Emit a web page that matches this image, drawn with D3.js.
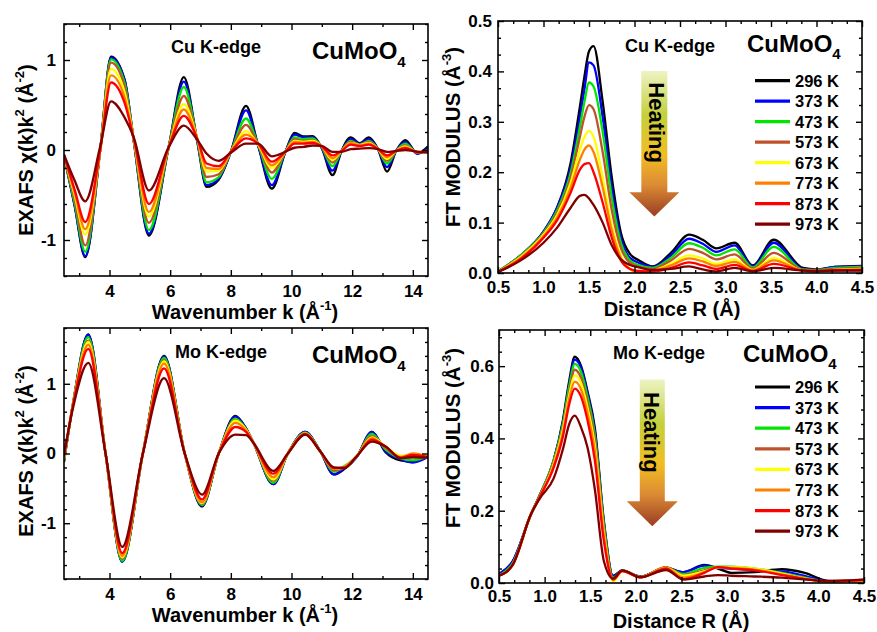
<!DOCTYPE html>
<html>
<head>
<meta charset="utf-8">
<script src="https://cdn.jsdelivr.net/npm/d3@7"></script>
<style>
body { margin: 0; background: #fff; }
text { font-family: "Liberation Sans", Arial, sans-serif; font-weight: bold; }
</style>
</head>
<body>
<script>
// temperatures and their colours (legend order)
var temps = ["296 K", "373 K", "473 K", "573 K", "673 K", "773 K", "873 K", "973 K"];
var colors = ["#000000", "#0000ff", "#00e600", "#c0522b", "#ffff00", "#ff8000", "#ff0000", "#800000"];

// Cu K-edge EXAFS, k grid (1/A) and chi(k)k^2 per temperature
var cuK = [2.5, 2.85, 3.2, 3.7, 4.05, 4.5, 4.8, 5.3, 5.95, 6.45, 6.9, 7.2, 7.6, 8.0, 8.5, 8.9, 9.35, 9.8, 10.1, 10.4, 10.7, 11.0, 11.35, 11.65, 11.95, 12.25, 12.55, 12.85, 13.15, 13.45, 13.75, 14.15, 14.5];
var cuChi = [
  [-0.06, -0.62, -1.19, 0.02, 1.037, 0.78, 0.10, -0.95, 0.03, 0.81, 0.08, -0.41, -0.33, -0.02, 0.49, 0.05, -0.43, -0.02, 0.19, 0.15, 0.155, 0.02, -0.28, -0.01, 0.14, 0.075, 0.14, 0.01, -0.24, -0.01, 0.11, -0.04, 0.04],
  [-0.06, -0.61, -1.18, 0.02, 1.026, 0.77, 0.10, -0.93, 0.03, 0.76, 0.09, -0.39, -0.32, -0.02, 0.44, 0.05, -0.39, -0.02, 0.17, 0.14, 0.14, 0.02, -0.23, -0.01, 0.12, 0.07, 0.12, 0.01, -0.19, -0.01, 0.09, -0.04, 0.02],
  [-0.06, -0.59, -1.13, 0.02, 1.007, 0.74, 0.11, -0.89, 0.03, 0.70, 0.10, -0.36, -0.30, -0.02, 0.35, 0.06, -0.32, -0.02, 0.14, 0.12, 0.13, 0.03, -0.18, -0.01, 0.10, 0.06, 0.10, 0.01, -0.15, -0.01, 0.07, -0.03, 0.0],
  [-0.06, -0.55, -1.06, 0.02, 0.97, 0.70, 0.11, -0.81, 0.03, 0.60, 0.11, -0.30, -0.27, -0.02, 0.28, 0.06, -0.25, -0.02, 0.12, 0.10, 0.11, 0.03, -0.14, -0.01, 0.09, 0.06, 0.09, 0.01, -0.12, -0.01, 0.05, -0.03, -0.01],
  [-0.06, -0.50, -0.94, 0.01, 0.90, 0.64, 0.12, -0.74, 0.03, 0.51, 0.12, -0.24, -0.23, -0.02, 0.21, 0.06, -0.20, -0.02, 0.10, 0.09, 0.10, 0.04, -0.11, -0.01, 0.08, 0.055, 0.08, 0.01, -0.10, -0.01, 0.04, -0.02, -0.02],
  [-0.06, -0.47, -0.88, 0.01, 0.83, 0.58, 0.12, -0.69, 0.03, 0.45, 0.12, -0.20, -0.21, -0.02, 0.17, 0.07, -0.17, -0.02, 0.09, 0.08, 0.09, 0.04, -0.09, -0.01, 0.075, 0.05, 0.07, 0.01, -0.08, -0.01, 0.03, -0.02, -0.02],
  [-0.06, -0.44, -0.80, 0.01, 0.75, 0.52, 0.13, -0.60, 0.03, 0.38, 0.12, -0.15, -0.18, -0.02, 0.13, 0.07, -0.13, -0.02, 0.07, 0.07, 0.08, 0.04, -0.06, -0.01, 0.06, 0.045, 0.06, 0.01, -0.06, -0.01, 0.02, -0.02, -0.02],
  [-0.05, -0.34, -0.57, 0.05, 0.54, 0.36, 0.14, -0.45, 0.03, 0.27, 0.11, -0.04, -0.12, -0.03, 0.07, 0.07, -0.07, -0.02, 0.025, 0.035, 0.05, 0.045, -0.02, -0.02, 0.01, 0.015, 0.02, 0.01, -0.02, -0.01, 0.0, -0.02, -0.03]
];

// Cu K-edge FT modulus, R grid (A)
var cuR = [0.5, 0.75, 1.0, 1.15, 1.3, 1.4, 1.45, 1.5, 1.55, 1.65, 1.75, 1.85, 1.95, 2.05, 2.2, 2.4, 2.6, 2.75, 2.9, 3.1, 3.3, 3.53, 3.85, 4.0, 4.2, 4.5];
var cuFT = [
  [0.003, 0.035, 0.082, 0.13, 0.22, 0.33, 0.39, 0.44, 0.45, 0.34, 0.19, 0.08, 0.038, 0.025, 0.013, 0.04, 0.076, 0.066, 0.049, 0.06, 0.015, 0.066, 0.01, 0.007, 0.012, 0.014],
  [0.003, 0.035, 0.082, 0.13, 0.21, 0.31, 0.365, 0.418, 0.412, 0.31, 0.17, 0.07, 0.03, 0.02, 0.012, 0.035, 0.068, 0.058, 0.042, 0.055, 0.013, 0.06, 0.008, 0.006, 0.012, 0.013],
  [0.003, 0.035, 0.08, 0.125, 0.20, 0.29, 0.34, 0.378, 0.37, 0.28, 0.15, 0.06, 0.025, 0.015, 0.01, 0.03, 0.059, 0.05, 0.035, 0.047, 0.011, 0.052, 0.007, 0.006, 0.01, 0.012],
  [0.003, 0.033, 0.078, 0.12, 0.19, 0.27, 0.31, 0.333, 0.325, 0.24, 0.125, 0.05, 0.02, 0.012, 0.008, 0.025, 0.048, 0.04, 0.027, 0.037, 0.009, 0.04, 0.006, 0.005, 0.008, 0.01],
  [0.002, 0.032, 0.076, 0.115, 0.18, 0.245, 0.27, 0.282, 0.27, 0.19, 0.095, 0.035, 0.008, 0.0, 0.004, 0.018, 0.035, 0.029, 0.018, 0.027, 0.006, 0.03, 0.005, 0.004, 0.006, 0.008],
  [0.002, 0.03, 0.073, 0.11, 0.17, 0.225, 0.245, 0.253, 0.24, 0.17, 0.085, 0.03, 0.008, 0.002, 0.004, 0.015, 0.029, 0.023, 0.014, 0.022, 0.005, 0.025, 0.005, 0.004, 0.006, 0.007],
  [0.002, 0.028, 0.07, 0.105, 0.16, 0.205, 0.216, 0.218, 0.2, 0.14, 0.07, 0.025, 0.008, 0.004, 0.003, 0.01, 0.021, 0.015, 0.008, 0.016, 0.004, 0.018, 0.005, 0.004, 0.005, 0.006],
  [0.002, 0.025, 0.06, 0.09, 0.13, 0.153, 0.155, 0.148, 0.135, 0.1, 0.055, 0.027, 0.016, 0.011, 0.006, 0.008, 0.013, 0.007, 0.003, 0.01, 0.003, 0.01, 0.005, 0.004, 0.005, 0.005]
];

// Mo K-edge EXAFS
var moK = [2.5, 2.8, 3.3, 3.87, 4.42, 5.1, 5.8, 6.48, 7.05, 7.6, 8.15, 8.5, 8.75, 9.4, 9.88, 10.45, 10.95, 11.4, 11.75, 12.15, 12.65, 13.1, 13.6, 14.0, 14.5];
var moChi = [
  [-0.12, 0.72, 1.71, 0.0, -1.55, 0.0, 1.40, 0.0, -0.76, 0.0, 0.54, 0.36, 0.15, -0.44, 0.0, 0.31, 0.03, -0.30, -0.22, -0.05, 0.31, 0.02, -0.10, -0.12, -0.03],
  [-0.11, 0.72, 1.70, 0.0, -1.55, 0.0, 1.39, 0.0, -0.75, 0.0, 0.53, 0.36, 0.15, -0.44, 0.0, 0.31, 0.03, -0.30, -0.21, -0.05, 0.31, 0.03, -0.08, -0.13, -0.05],
  [-0.10, 0.72, 1.67, 0.0, -1.54, 0.0, 1.37, 0.0, -0.74, 0.0, 0.50, 0.35, 0.15, -0.42, 0.0, 0.30, 0.03, -0.26, -0.18, -0.04, 0.28, 0.06, -0.07, -0.10, -0.04],
  [-0.08, 0.71, 1.62, 0.0, -1.51, 0.0, 1.34, 0.0, -0.72, 0.0, 0.48, 0.34, 0.15, -0.39, 0.0, 0.29, 0.03, -0.24, -0.20, -0.04, 0.25, 0.08, -0.06, -0.06, -0.05],
  [-0.07, 0.71, 1.60, 0.0, -1.49, 0.0, 1.32, 0.0, -0.71, 0.0, 0.47, 0.34, 0.15, -0.37, 0.0, 0.29, 0.03, -0.22, -0.19, -0.04, 0.23, 0.10, -0.03, -0.03, -0.03],
  [-0.06, 0.70, 1.56, 0.0, -1.47, 0.0, 1.29, 0.0, -0.70, 0.0, 0.44, 0.33, 0.15, -0.34, 0.0, 0.28, 0.03, -0.22, -0.19, -0.04, 0.22, 0.09, -0.05, 0.0, -0.05],
  [-0.04, 0.70, 1.50, 0.0, -1.43, 0.0, 1.22, 0.0, -0.66, 0.0, 0.38, 0.31, 0.15, -0.29, 0.0, 0.28, 0.03, -0.21, -0.20, -0.04, 0.20, 0.10, -0.06, -0.02, -0.05],
  [-0.02, 0.66, 1.30, 0.0, -1.34, 0.0, 1.08, 0.0, -0.59, 0.0, 0.27, 0.265, 0.15, -0.25, 0.0, 0.27, 0.03, -0.20, -0.21, -0.04, 0.17, 0.10, -0.07, -0.05, -0.06]
];

// Mo K-edge FT modulus
var moR = [0.5, 0.65, 0.85, 0.95, 1.1, 1.2, 1.27, 1.33, 1.4, 1.47, 1.55, 1.65, 1.75, 1.85, 2.05, 2.33, 2.52, 2.75, 2.9, 3.05, 3.3, 3.6, 3.85, 4.1, 4.3, 4.5];
var moFT = [
  [0.025, 0.06, 0.19, 0.245, 0.34, 0.45, 0.56, 0.626, 0.60, 0.53, 0.43, 0.17, 0.02, 0.035, 0.018, 0.042, 0.03, 0.05, 0.04, 0.028, 0.03, 0.038, 0.028, 0.006, 0.004, 0.006],
  [0.025, 0.06, 0.19, 0.245, 0.34, 0.445, 0.55, 0.618, 0.595, 0.525, 0.42, 0.165, 0.018, 0.034, 0.018, 0.042, 0.03, 0.048, 0.042, 0.04, 0.035, 0.032, 0.02, 0.005, 0.004, 0.006],
  [0.02, 0.055, 0.19, 0.245, 0.34, 0.44, 0.545, 0.606, 0.583, 0.515, 0.41, 0.16, 0.015, 0.034, 0.017, 0.043, 0.025, 0.042, 0.045, 0.045, 0.04, 0.028, 0.015, 0.004, 0.004, 0.006],
  [0.02, 0.052, 0.19, 0.243, 0.335, 0.43, 0.53, 0.59, 0.567, 0.50, 0.395, 0.15, 0.012, 0.034, 0.017, 0.044, 0.022, 0.035, 0.044, 0.043, 0.038, 0.025, 0.013, 0.004, 0.004, 0.006],
  [0.02, 0.05, 0.19, 0.24, 0.33, 0.425, 0.52, 0.575, 0.552, 0.485, 0.38, 0.14, 0.004, 0.033, 0.016, 0.042, 0.02, 0.032, 0.043, 0.044, 0.04, 0.026, 0.013, 0.004, 0.004, 0.006],
  [0.02, 0.05, 0.19, 0.24, 0.325, 0.415, 0.51, 0.557, 0.535, 0.47, 0.365, 0.13, 0.008, 0.033, 0.016, 0.042, 0.015, 0.03, 0.044, 0.042, 0.037, 0.024, 0.012, 0.004, 0.005, 0.007],
  [0.02, 0.05, 0.19, 0.24, 0.32, 0.405, 0.495, 0.538, 0.515, 0.45, 0.34, 0.115, 0.01, 0.033, 0.015, 0.04, 0.01, 0.028, 0.044, 0.04, 0.035, 0.022, 0.011, 0.005, 0.006, 0.008],
  [0.02, 0.05, 0.19, 0.235, 0.29, 0.37, 0.44, 0.463, 0.43, 0.375, 0.26, 0.06, 0.012, 0.035, 0.016, 0.036, 0.01, 0.018, 0.022, 0.02, 0.018, 0.015, 0.01, 0.006, 0.007, 0.01]
];

var W = 877, H = 632;
var svg = d3.select("body").append("svg").attr("width", W).attr("height", H);

var defs = svg.append("defs");
var grad = defs.append("linearGradient").attr("id", "heat").attr("x1", 0).attr("y1", 0).attr("x2", 0).attr("y2", 1);
[["0%", "#eef3c4"], ["30%", "#c4d03c"], ["58%", "#f2bc22"], ["78%", "#dc8c34"], ["100%", "#9a3c24"]].forEach(function(s) {
  grad.append("stop").attr("offset", s[0]).attr("stop-color", s[1]);
});

function styleAxis(a, size) {
  a.select(".domain").remove();
  a.attr("font-size", size).attr("font-family", '"Liberation Sans", Arial, sans-serif').attr("font-weight", "bold");
  a.selectAll("line").attr("stroke-width", 1.4);
}

function addTitle(g, x, y, rot, size, parts) {
  var t = g.append("text").attr("text-anchor", "middle").attr("font-size", size)
    .attr("transform", "translate(" + x + "," + y + ")" + (rot ? " rotate(" + rot + ")" : ""));
  parts.forEach(function(p) {
    if (typeof p === "string") t.append("tspan").text(p);
    else t.append("tspan").attr("font-size", p.size).attr("dy", p.dy).text(p.t);
  });
  return t;
}

function panel(o) {
  var x = d3.scaleLinear().domain(o.xDomain).range([o.left, o.right]);
  var y = d3.scaleLinear().domain(o.yDomain).range([o.bottom, o.top]);
  var g = svg.append("g");
  var clipId = "clip" + o.id;
  defs.append("clipPath").attr("id", clipId).append("rect")
    .attr("x", o.left).attr("y", o.top).attr("width", o.right - o.left).attr("height", o.bottom - o.top);

  var line = d3.line()
    .x(function(d, i) { return x(o.xs[i]); })
    .y(function(d) { return y(d); })
    .curve(d3.curveMonotoneX);

  g.append("g").attr("clip-path", "url(#" + clipId + ")")
    .selectAll("path").data(o.series).enter().append("path")
    .attr("d", line)
    .attr("fill", "none")
    .attr("stroke", function(d, i) { return colors[i]; })
    .attr("stroke-width", 2.3)
    .attr("stroke-linejoin", "round");

  // ticks, inward on all four sides
  g.append("g").attr("transform", "translate(0," + o.bottom + ")")
    .call(d3.axisBottom(x).tickValues(o.xMajor).tickSize(-6).tickPadding(o.xPad).tickFormat(o.xFmt))
    .call(styleAxis, 17);
  g.append("g").attr("transform", "translate(0," + o.bottom + ")")
    .call(d3.axisBottom(x).tickValues(o.xMinor).tickSize(-3).tickFormat(""))
    .call(styleAxis, 17);
  g.append("g").attr("transform", "translate(0," + o.top + ")")
    .call(d3.axisTop(x).tickValues(o.xMajor).tickSize(-6).tickFormat(""))
    .call(styleAxis, 17);
  g.append("g").attr("transform", "translate(0," + o.top + ")")
    .call(d3.axisTop(x).tickValues(o.xMinor).tickSize(-3).tickFormat(""))
    .call(styleAxis, 17);
  g.append("g").attr("transform", "translate(" + o.left + ",0)")
    .call(d3.axisLeft(y).tickValues(o.yMajor).tickSize(-6).tickPadding(o.yPad).tickFormat(o.yFmt))
    .call(styleAxis, 17);
  g.append("g").attr("transform", "translate(" + o.left + ",0)")
    .call(d3.axisLeft(y).tickValues(o.yMinor).tickSize(-3).tickFormat(""))
    .call(styleAxis, 17);
  g.append("g").attr("transform", "translate(" + o.right + ",0)")
    .call(d3.axisRight(y).tickValues(o.yMajor).tickSize(-6).tickFormat(""))
    .call(styleAxis, 17);
  g.append("g").attr("transform", "translate(" + o.right + ",0)")
    .call(d3.axisRight(y).tickValues(o.yMinor).tickSize(-3).tickFormat(""))
    .call(styleAxis, 17);

  g.append("rect").attr("x", o.left).attr("y", o.top)
    .attr("width", o.right - o.left).attr("height", o.bottom - o.top)
    .attr("fill", "none").attr("stroke", "#000").attr("stroke-width", 1.6);

  return { g: g, x: x, y: y };
}

function minors(lo, hi, step, every) {
  var out = [];
  for (var i = Math.ceil(lo / step - 1e-9); i * step <= hi + 1e-9; i++) {
    if (i % every !== 0) out.push(+(i * step).toFixed(4));
  }
  return out;
}

function label(g, x, y, edge) {
  g.append("text").attr("x", x).attr("y", y).attr("font-size", 18).text(edge);
}
function formula(g, x, y, sub) {
  var t = g.append("text").attr("x", x).attr("y", y).attr("font-size", 24);
  t.append("tspan").text("CuMoO");
  t.append("tspan").attr("font-size", 15).attr("dy", sub).text("4");
}

function legend(p, x0, y0, step) {
  var lg = p.g.append("g");
  temps.forEach(function(t, i) {
    var yy = y0 + i * step;
    lg.append("line").attr("x1", x0).attr("x2", x0 + 35).attr("y1", yy).attr("y2", yy)
      .attr("stroke", colors[i]).attr("stroke-width", 3.2);
    lg.append("text").attr("x", x0 + 40).attr("y", yy + 6).attr("font-size", 16.5).text(t);
  });
}

function arrow(p, o) {
  var cx = p.x(o.r), yt = p.y(o.top), yb = p.y(o.base), yTip = p.y(o.tip);
  var pts = [[cx - o.shaft, yt], [cx + o.shaft, yt], [cx + o.shaft, yb], [cx + o.head, yb],
             [cx, yTip], [cx - o.head, yb], [cx - o.shaft, yb]];
  p.g.append("path").attr("d", "M" + pts.join("L") + "Z").attr("fill", "url(#heat)");
  p.g.append("text").attr("font-size", 22).attr("text-anchor", "middle")
    .attr("transform", "translate(" + (cx + o.dx) + "," + ((yt + yb) / 2 + o.dy) + ") rotate(90)")
    .text("Heating");
}

var fmtInt = function(d) { return String(d); };
var fmt1 = d3.format(".1f");

// top-left: Cu K-edge EXAFS
var p1 = panel({
  id: 1, left: 64, right: 428, top: 24, bottom: 276,
  xDomain: [2.5, 14.5], yDomain: [-1.4, 1.4], xs: cuK, series: cuChi,
  xMajor: [4, 6, 8, 10, 12, 14], xMinor: [3, 5, 7, 9, 11, 13], xFmt: fmtInt, xPad: 9,
  yMajor: [-1, 0, 1], yMinor: minors(-1.4, 1.4, 0.2, 5), yFmt: fmtInt, yPad: 8
});
label(p1.g, 171, 53, "Cu K-edge");
formula(p1.g, 312, 59, 8);
addTitle(p1.g, 245, 319, 0, 20, ["Wavenumber k (Å", { t: "-1", size: 13, dy: -9 }, { t: ")", size: 20, dy: 9 }]);
addTitle(p1.g, 33, 150, -90, 20, ["EXAFS χ(k)k", { t: "2", size: 13, dy: -9 }, { t: " (Å", size: 20, dy: 9 }, { t: "-2", size: 13, dy: -9 }, { t: ")", size: 20, dy: 9 }]);

// top-right: Cu K-edge FT
var p2 = panel({
  id: 2, left: 498, right: 862, top: 21, bottom: 273,
  xDomain: [0.5, 4.5], yDomain: [0, 0.5], xs: cuR, series: cuFT,
  xMajor: d3.range(0.5, 4.51, 0.5), xMinor: minors(0.5, 4.5, 0.5 / 3, 3), xFmt: fmt1, xPad: 8,
  yMajor: d3.range(0, 0.51, 0.1), yMinor: minors(0, 0.5, 0.1 / 3, 3), yFmt: fmt1, yPad: 6
});
arrow(p2, { r: 2.218, top: 0.401, base: 0.160, tip: 0.112, shaft: 13, head: 25, dx: -5, dy: -9 });
label(p2.g, 625, 52, "Cu K-edge");
formula(p2.g, 747, 52, 7);
legend(p2, 755, 80.7, 20.5);
addTitle(p2.g, 672, 316, 0, 20, ["Distance R (Å)"]);
addTitle(p2.g, 460, 137, -90, 20.5, ["FT MODULUS  (Å", { t: "-3", size: 13, dy: -9 }, { t: ")", size: 20.5, dy: 9 }]);

// bottom-left: Mo K-edge EXAFS
var p3 = panel({
  id: 3, left: 64, right: 428, top: 328, bottom: 579,
  xDomain: [2.5, 14.5], yDomain: [-1.8, 1.8], xs: moK, series: moChi,
  xMajor: [4, 6, 8, 10, 12, 14], xMinor: [3, 5, 7, 9, 11, 13], xFmt: fmtInt, xPad: 9,
  yMajor: [-1, 0, 1], yMinor: minors(-1.8, 1.8, 0.2, 5), yFmt: fmtInt, yPad: 8
});
label(p3.g, 175, 358, "Mo K-edge");
formula(p3.g, 312, 363, 8);
addTitle(p3.g, 245, 622, 0, 20, ["Wavenumber k (Å", { t: "-1", size: 13, dy: -9 }, { t: ")", size: 20, dy: 9 }]);
addTitle(p3.g, 33, 451, -90, 20, ["EXAFS χ(k)k", { t: "2", size: 13, dy: -9 }, { t: " (Å", size: 20, dy: 9 }, { t: "-2", size: 13, dy: -9 }, { t: ")", size: 20, dy: 9 }]);

// bottom-right: Mo K-edge FT
var p4 = panel({
  id: 4, left: 499, right: 864, top: 330, bottom: 583,
  xDomain: [0.5, 4.5], yDomain: [0, 0.7], xs: moR, series: moFT,
  xMajor: d3.range(0.5, 4.51, 0.5), xMinor: minors(0.5, 4.5, 0.5 / 3, 3), xFmt: fmt1, xPad: 7,
  yMajor: [0, 0.2, 0.4, 0.6], yMinor: minors(0, 0.7, 0.04, 5), yFmt: fmt1, yPad: 5
});
arrow(p4, { r: 2.18, top: 0.563, base: 0.226, tip: 0.157, shaft: 12.5, head: 25.5, dx: -8, dy: -8 });
label(p4.g, 613, 359, "Mo K-edge");
formula(p4.g, 743, 362, 7);
legend(p4, 755, 387, 20.6);
addTitle(p4.g, 681, 628, 0, 20, ["Distance R (Å)"]);
addTitle(p4.g, 460, 438, -90, 20.5, ["FT MODULUS  (Å", { t: "-3", size: 13, dy: -9 }, { t: ")", size: 20.5, dy: 9 }]);
</script>
</body>
</html>
